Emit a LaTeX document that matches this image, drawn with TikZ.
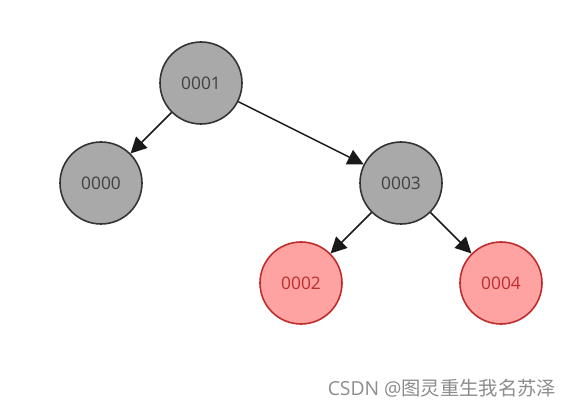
\documentclass[tikz,border=0pt]{standalone}
\usepackage{fontspec}
\setmainfont{Open Sans}
\newfontfamily\cjkfont{Noto Sans CJK SC}
\usepackage{tikz}
\usetikzlibrary{arrows.meta, positioning}
\usepackage{xcolor}
\definecolor{blackfill}{RGB}{169,169,169}
\definecolor{blackedge}{RGB}{51,51,51}
\definecolor{redfill}{RGB}{255,162,162}
\definecolor{rededge}{RGB}{190,45,45}
\definecolor{marktext}{RGB}{140,140,140}
\tikzset{
  basenode/.style={circle, minimum size=61.5pt, inner sep=0pt, line width=1.2pt, font=\fontsize{13}{15}\selectfont},
  blacknode/.style={basenode, draw=blackedge, fill=blackfill, text=black!75},
  rednode/.style={basenode, draw=rededge, fill=redfill, text=rededge},
  treearrow/.style={-{Triangle[length=12pt, width=12pt]}, line width=1.1pt, color=black!90}
}

\begin{document}
\begin{tikzpicture}[x=0.75pt, y=-0.75pt, node distance=75pt and 75pt, on grid]
  \useasboundingbox (0,0) rectangle (577,409);
  \node[blacknode] (n1) at (201,83) {0001};
  \node[blacknode, below left=of n1] (n0) {0000};
  \node[blacknode, below right=75pt and 150pt of n1] (n3) {0003};
  \node[rednode, below left=of n3] (n2) {0002};
  \node[rednode, below right=of n3] (n4) {0004};
  \node[anchor=east, text=marktext, font=\fontsize{14.5}{16}\selectfont] (mark) at (561,388) {CSDN @{\cjkfont 图灵重生我名苏泽}};

  \draw[treearrow] (n1) -- (n0);
  \draw[treearrow] (n1) -- (n3);
  \draw[treearrow] (n3) -- (n2);
  \draw[treearrow] (n3) -- (n4);
\end{tikzpicture}
\end{document}
